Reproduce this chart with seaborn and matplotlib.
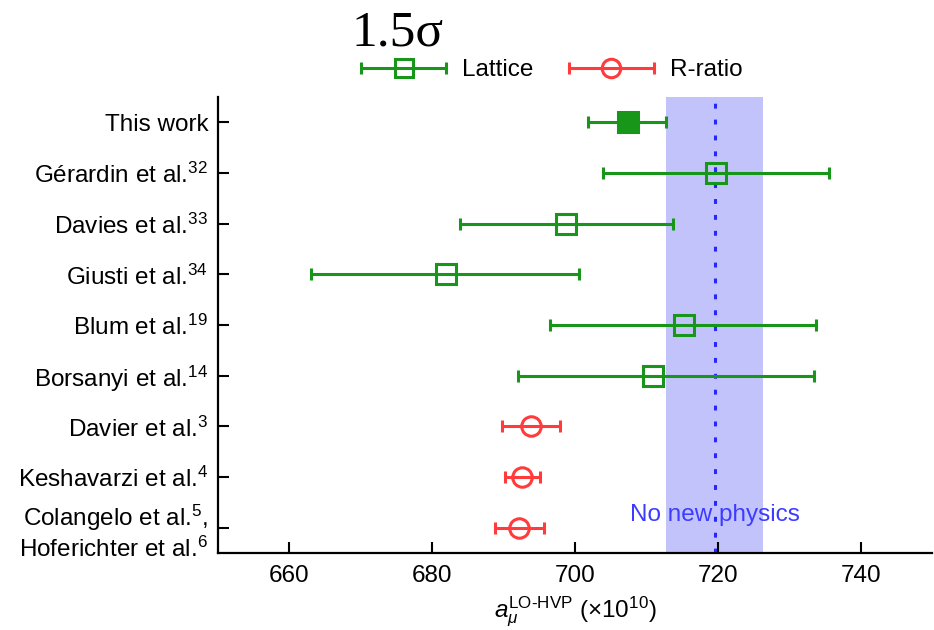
import numpy as np
import pandas as pd
import matplotlib
matplotlib.use("Agg")
import matplotlib.pyplot as plt
from matplotlib.container import ErrorbarContainer
from matplotlib.legend_handler import HandlerErrorbar
import seaborn as sns

# ---- data ----
labels = ["This work", "Gérardin et al.$^{32}$", "Davies et al.$^{33}$", "Giusti et al.$^{34}$",
          "Blum et al.$^{19}$", "Borsanyi et al.$^{14}$", "Davier et al.$^{3}$",
          "Keshavarzi et al.$^{4}$", "Colangelo et al.$^{5}$,\nHoferichter et al.$^{6}$"]
kind = ["Lattice", "Lattice", "Lattice", "Lattice", "Lattice", "Lattice", "R-ratio", "R-ratio", "R-ratio"]
center = [707.4, 719.8, 698.8, 681.9, 715.2, 710.9, 693.8, 692.6, 692.1]
err_lo = [5.6, 15.9, 14.9, 18.9, 18.7, 18.9, 4.0, 2.4, 3.3]
err_hi = [5.4, 15.8, 14.9, 18.7, 18.6, 22.6, 4.1, 2.5, 3.5]
band_lo, band_hi, band_center = 712.8, 726.3, 719.6
xticks = [660, 680, 700, 720, 740]
xlim = (650, 750)

df = pd.DataFrame({"label": labels, "kind": kind, "x": center, "lo": err_lo, "hi": err_hi})
df["y"] = np.arange(len(df))

sns.set_theme(style="ticks")
plt.rcParams["font.family"] = ["Liberation Sans", "DejaVu Sans"]
plt.rcParams["mathtext.fontset"] = "custom"
plt.rcParams["mathtext.rm"] = "Liberation Sans"
plt.rcParams["mathtext.it"] = "Liberation Sans:italic"
for k in ["text.color", "axes.labelcolor", "xtick.color", "ytick.color", "axes.edgecolor"]:
    plt.rcParams[k] = "black"

GREEN = "#17961a"
RED = "#ff3b3b"
fs = 17.5

fig = plt.figure(figsize=(9.34, 6.30), dpi=100)
ax = fig.add_axes([218/934, 1 - 553/630, 714/934, 456/630])

ax.axvspan(band_lo, band_hi, color="#c3c3fb", zorder=0, lw=0)
ax.axvline(band_center, color="#2626ff", lw=2.2, ls=(0, (1.6, 3.6)), zorder=1)

common = dict(ls="none", elinewidth=2.2, capsize=4.5, capthick=2.2, markersize=14,
              markeredgewidth=2.2, zorder=3)

lat = df[(df.kind == "Lattice") & (df.label != "This work")]
h_lat = ax.errorbar(lat.x, lat.y, xerr=[lat.lo, lat.hi], color=GREEN, marker="s",
                    markerfacecolor="none", markeredgecolor=GREEN, **common)
tw = df[df.label == "This work"]
ax.errorbar(tw.x, tw.y, xerr=[tw.lo, tw.hi], color=GREEN, marker="s",
            markerfacecolor=GREEN, markeredgecolor=GREEN, **common)
rr = df[df.kind == "R-ratio"]
h_rr = ax.errorbar(rr.x, rr.y, xerr=[rr.lo, rr.hi], color=RED, marker="o",
                   markerfacecolor="none", markeredgecolor=RED, **common)

ax.text(band_center, 7.75, "No new physics", color="#3c3cff", fontsize=fs,
        ha="center", va="center", zorder=4)

ax.set_xlim(*xlim)
ax.set_ylim(len(df) - 0.5, -0.5)
ax.set_xticks(xticks)
ax.set_yticks(df.y)
ax.set_yticklabels(df.label, fontsize=fs, linespacing=1.2)
ax.tick_params(axis="x", labelsize=fs, direction="in", length=8, width=1.5, pad=9)
ax.tick_params(axis="y", direction="in", length=8, width=1.5, pad=7)
sns.despine(ax=ax)
for s in ["left", "bottom"]:
    ax.spines[s].set_linewidth(1.6)
    ax.spines[s].set_color("black")

ax.set_xlabel(r"$a_{\mu}^{\mathrm{LO\text{-}HVP}}$ ($\times$10$^{10}$)", fontsize=fs, labelpad=5)

fig.text(352/934, 1 - 45/630, "1.5σ", fontsize=37, family=["Liberation Serif", "DejaVu Serif"],
         ha="left", va="baseline")

fig.legend([h_lat, h_rr], ["Lattice", "R-ratio"], loc="center left",
           bbox_to_anchor=(360/934, 1 - 70/630), ncol=2, frameon=False, fontsize=fs,
           handlelength=3.6, handletextpad=0.6, columnspacing=1.4, borderpad=0,
           borderaxespad=0, markerscale=0.95,
           handler_map={ErrorbarContainer: HandlerErrorbar(xerr_size=1.75)})

fig.savefig("out.png", dpi=100)
